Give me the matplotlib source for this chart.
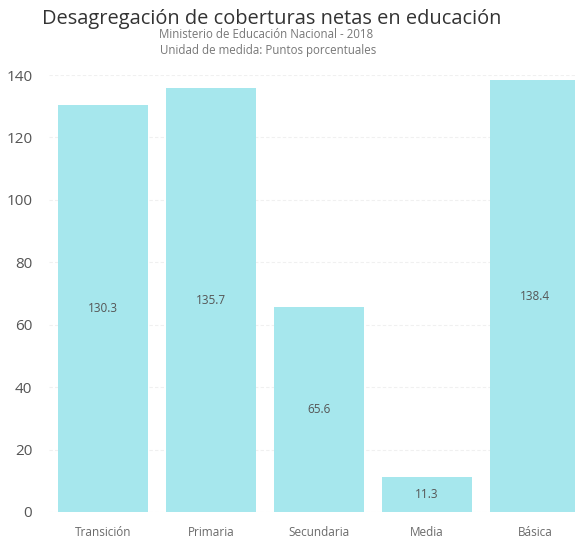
import matplotlib
matplotlib.use("Agg")
from matplotlib import pyplot as plt

categorias = ["Transición", "Primaria", "Secundaria", "Media", "Básica"]
valores = [130.3, 135.7, 65.6, 11.3, 138.4]
etiquetas = ["130.3", "135.7", "65.6", "11.3", "138.4"]
yticks = [0, 20, 40, 60, 80, 100, 120, 140]

plt.rcParams['font.family'] = ['Open Sans', 'DejaVu Sans']

fig = plt.figure(figsize=(5.75, 5.48), dpi=100)
ax = fig.add_axes([0.0852, 0.0657, 0.939, 0.7974])

x = range(len(categorias))
bars = ax.bar(x, valores, width=0.83, color='#a6e7ed', zorder=2)

# etiquetas centradas dentro de cada barra
for b, t in zip(bars, etiquetas):
    ax.text(b.get_x() + b.get_width()/2, b.get_height()/2, t,
            ha='center', va='center', fontsize=8.5, color='#555555', zorder=3)

ax.set_xlim(-0.5, 4.5)
ax.set_ylim(0, 140)
ax.set_yticks(yticks)
ax.set_xticks(list(x))
ax.set_xticklabels(categorias)
ax.tick_params(axis='x', length=0, pad=10, labelsize=8.5, labelcolor='#6a6a6a')
ax.tick_params(axis='y', length=0, pad=12, labelsize=11, labelcolor='#555555')
ax.grid(axis='y', color='#f0f0f0', linewidth=0.8, linestyle=(0, (3, 2)), zorder=0)
for s in ax.spines.values():
    s.set_visible(False)

fig.text(272/575, 1 - 19/548, "Desagregación de coberturas netas en educación",
         ha='center', va='center', fontsize=14.4, color='#333333')
fig.text(266/575, 1 - 34/548, "Ministerio de Educación Nacional - 2018",
         ha='center', va='center', fontsize=8.3, color='#777777')
fig.text(268/575, 1 - 50/548, "Unidad de medida: Puntos porcentuales",
         ha='center', va='center', fontsize=8.3, color='#777777')

fig.savefig("out.png", dpi=100)
